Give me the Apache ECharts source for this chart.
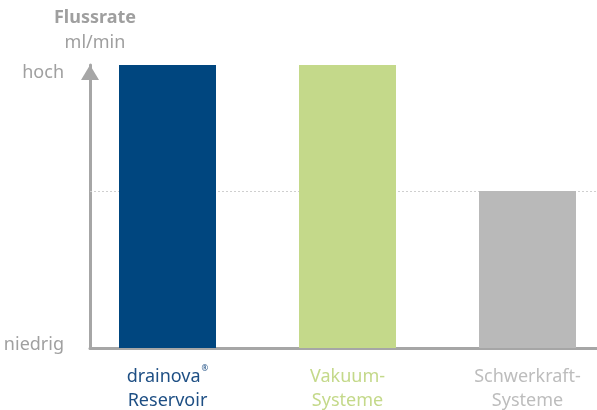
<!DOCTYPE html>
<html>
<head>
<meta charset="utf-8">
<script src="https://cdn.jsdelivr.net/npm/echarts@6/dist/echarts.min.js"></script>
<style>html,body{margin:0;padding:0;background:#fff}#c{width:597px;height:410px}</style>
</head>
<body>
<div id="c"></div>
<script>
var categories = ['drainova® Reservoir', 'Vakuum- Systeme', 'Schwerkraft- Systeme'];
var values = [100, 100, 55.5];
var yTickLabels = ['niedrig', 'hoch'];
var refLevel = 55.5;

var barColors = ['#00467f', '#c4d98a', '#b9b9b9'];
var FONT = 'Noto Sans';
var FS = 18;

var chart = echarts.init(document.getElementById('c'), null, {renderer: 'canvas'});
var option = {
  animation: false,
  title: {
    text: 'Flussrate',
    subtext: 'ml/min',
    left: 90,
    top: 4,
    textAlign: 'center',
    itemGap: 7,
    textStyle: {fontFamily: FONT, fontSize: FS, fontWeight: 'bold', color: '#9f9f9f'},
    subtextStyle: {fontFamily: FONT, fontSize: FS, color: '#9f9f9f'}
  },
  grid: {left: 90, right: 0, top: 65, bottom: 62},
  xAxis: {
    type: 'value',
    min: -0.430556,
    max: 2.386111,
    splitLine: {show: false},
    axisTick: {show: false},
    axisLine: {show: true, onZero: false, lineStyle: {color: '#a6a6a6', width: 3}},
    axisLabel: {
      show: true,
      customValues: [0, 1, 2],
      margin: 17,
      formatter: function (v) {
        var i = Math.round(v);
        var keys = ['a', 'b', 'c'];
        var k = keys[i];
        if (i === 0) {
          return '{a|drainova}{sup|®}\n{a|Reservoir}';
        }
        var parts = categories[i].split(' ');
        return '{' + k + '|' + parts[0] + '}\n{' + k + '|' + parts[1] + '}';
      },
      rich: {
        a: {fontFamily: FONT, fontSize: FS, color: '#1e4f84', lineHeight: 24},
        sup: {fontFamily: FONT, fontSize: 8, color: '#1e4f84', verticalAlign: 'top', padding: [0, 0, 10, 1], lineHeight: 24},
        b: {fontFamily: FONT, fontSize: FS, color: '#c4d98a', lineHeight: 24},
        c: {fontFamily: FONT, fontSize: FS, color: '#bdbdbd', lineHeight: 24}
      }
    }
  },
  yAxis: {
    type: 'value',
    min: 0,
    max: 100,
    splitLine: {show: false},
    axisTick: {show: false},
    axisLine: {
      show: true,
      onZero: false,
      symbol: ['none', 'triangle'],
      symbolSize: [18, 15],
      symbolOffset: [0, -7.5],
      lineStyle: {color: '#a6a6a6', width: 3}
    },
    axisLabel: {
      show: true,
      customValues: [0, 100],
      margin: 26,
      formatter: function (v) {
        return v === 0 ? '{lo|' + yTickLabels[0] + '}' : '{hi|' + yTickLabels[1] + '}';
      },
      rich: {
        lo: {fontFamily: FONT, fontSize: FS, color: '#a0a0a0', padding: [0, 0, 6, 0]},
        hi: {fontFamily: FONT, fontSize: FS, color: '#a0a0a0', padding: [16, 0, 0, 0]}
      }
    }
  },
  series: [{
    type: 'bar',
    barWidth: 97,
    z: 2,
    data: values.map(function (v, i) {
      return {value: [i, v], itemStyle: {color: barColors[i]}};
    }),
    markLine: {
      silent: true,
      z: 1,
      symbol: ['none', 'none'],
      label: {show: false},
      lineStyle: {type: [2, 2], color: '#cfcfcf', width: 1},
      data: [{yAxis: refLevel}]
    }
  }]
};
chart.setOption(option);
</script>
</body>
</html>
